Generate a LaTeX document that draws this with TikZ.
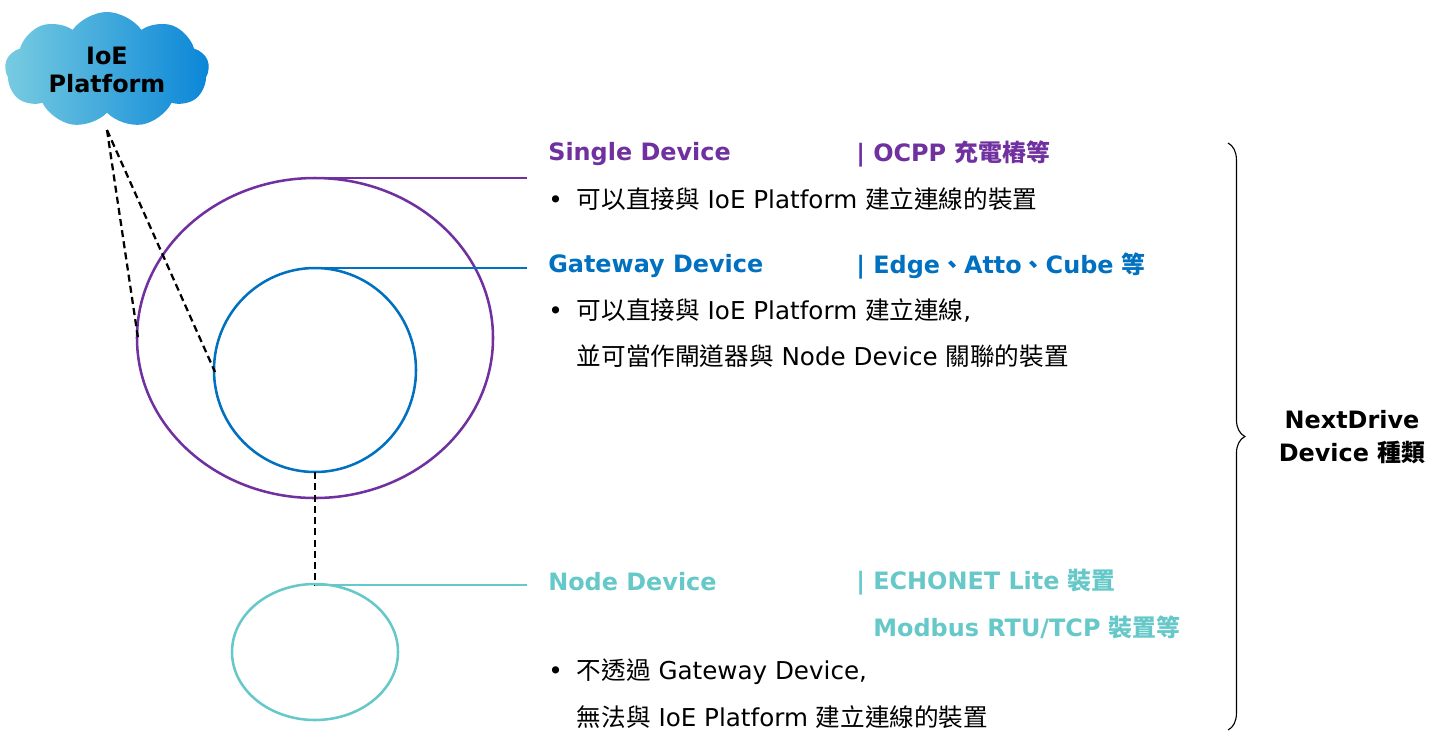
\documentclass[tikz,border=0pt]{standalone}
\usepackage{fontspec}
\setmainfont{DejaVu Sans}
\newfontfamily\cjk{Noto Sans CJK TC}
\newcommand{\zh}[1]{{\cjk #1}}
\newcommand{\bul}{•\hspace{10pt}}
\usetikzlibrary{shapes.symbols,decorations.pathreplacing,positioning}
\definecolor{single}{HTML}{7030A0}
\definecolor{gate}{HTML}{0070C0}
\definecolor{nodec}{HTML}{66C8C8}
\definecolor{cloudL}{HTML}{78CCE0}
\definecolor{cloudR}{HTML}{0A86D8}
\tikzset{
title/.style={anchor=west, font=\fontsize{17}{20}\selectfont\bfseries, inner sep=0pt},
desc/.style={anchor=west, font=\fontsize{17.5}{20}\selectfont, inner sep=0pt},
ring/.style={line width=1.8pt},
dash_line/.style={draw, dashed, line width=1.6pt, dash pattern=on 5pt off 3pt}
}
\begin{document}
\begin{tikzpicture}[x={(0.025cm,0)}, y={(0,-0.025cm)}]
\useasboundingbox (0,0) rectangle (1450,746);

% Wolke
\node[cloud, cloud puffs=9, cloud puff arc=110, aspect=2, minimum width=5.1cm, minimum height=2.9cm,
  left color=cloudL, right color=cloudR, draw=none, align=center,
  font=\fontsize{17}{20}\selectfont\bfseries] (cloud) at (107,70) {IoE\\Platform};
\coordinate (top) at (107,130);

% Ringe
\draw[ring, single] (315,338) ellipse [x radius=178, y radius=160];
\draw[ring, gate] (315,370) ellipse [x radius=101, y radius=102];
\draw[ring, nodec] (315,652) ellipse [x radius=83, y radius=68];
\coordinate (s_left) at (138,338);
\coordinate (g_left) at (215,372);
\coordinate (g_bot) at (315,472);
\coordinate (s_top) at (315,178);
\coordinate (g_top) at (315,268);
\coordinate (n_top) at (315,585);

\path[dash_line] (top) -- (s_left);
\path[dash_line] (top) -- (g_left);
\path[dash_line] (g_bot) -- (n_top);

% Texte
\node[title, single] (st) at (548,154) {Single Device};
\node[title, single] (sx) at (856,154) {| OCPP \zh{充電樁等}};
\node[desc] (sd) at (548,199) {\bul\zh{可以直接與} IoE Platform \zh{建立連線的裝置}};
\node[title, gate] (gt) at (548,266) {Gateway Device};
\node[title, gate] (gx) at (856,266) {| Edge\zh{、}Atto\zh{、}Cube \zh{等}};
\node[desc] (gd1) at (548,311) {\bul\zh{可以直接與} IoE Platform \zh{建立連線}, };
\node[desc] (gd2) at (548,356) {\hphantom{\bul}\zh{並可當作閘道器與} Node Device \zh{關聯的裝置}};
\node[title, nodec] (nt) at (548,582) {Node Device};
\node[title, nodec] (nx1) at (856,582) {| ECHONET Lite \zh{裝置}};
\node[title, nodec] (nx2) at (856,627) {\hphantom{| }Modbus RTU/TCP \zh{裝置等}};
\node[desc] (nd1) at (548,672) {\bul\zh{不透過} Gateway Device, };
\node[desc] (nd2) at (548,717) {\hphantom{\bul}\zh{無法與} IoE Platform \zh{建立連線的裝置}};

\draw[ring, single] (s_top) -- (527,178);
\draw[ring, gate] (g_top) -- (527,268);
\draw[ring, nodec] (n_top) -- (527,585);

% Klammer
\coordinate (b1) at (1228,143);
\coordinate (b2) at (1228,730);
\draw[decorate, decoration={brace, amplitude=12pt}, line width=0.8pt] (b1) -- (b2);
\node[font=\fontsize{17}{24}\selectfont\bfseries, align=center] (kind) at (1352,437) {NextDrive\\Device \zh{種類}};
\end{tikzpicture}
\end{document}
